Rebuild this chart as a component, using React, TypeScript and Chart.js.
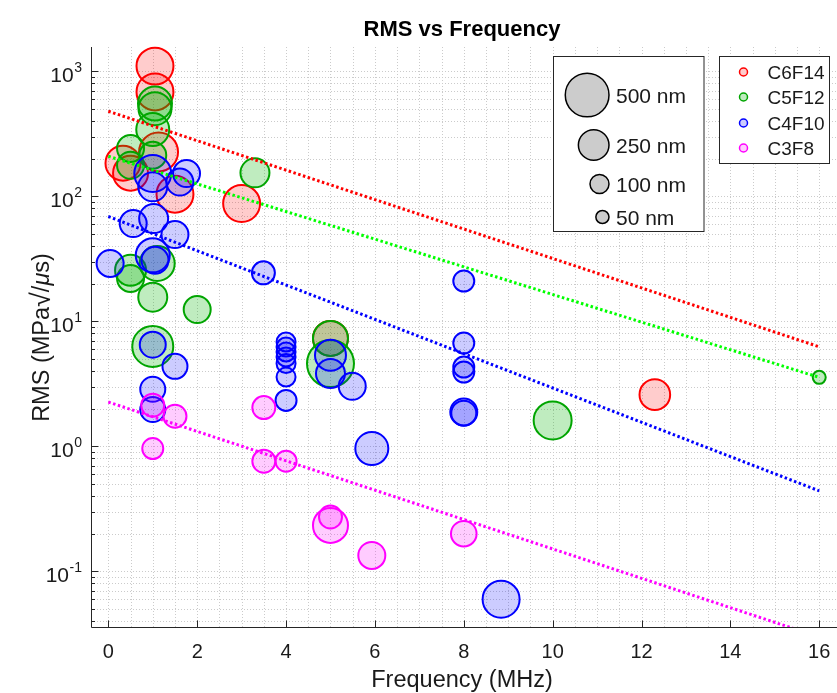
import React, { useEffect, useRef } from 'react';
import { Chart, registerables } from 'chart.js';

Chart.register(...registerables);

const FONT = '"Liberation Sans", Arial, Helvetica, sans-serif';

// ---- C6F14 (red) ----
const c6Freq = [1.05, 1.05, 1.13, 0.33, 0.5, 1.5, 3.0, 5.0, 12.3];
const c6Rms = [1100, 683, 226, 184, 153, 104, 87.5, 7.3, 2.59];
const c6Size = [360, 360, 400, 324, 324, 360, 360, 324, 250];

// ---- C5F12 (green) ----
const c5Freq = [1.05, 1.05, 1.0, 0.5, 1.0, 0.5, 3.3, 1.1, 0.5, 0.5, 1.0, 2.0, 1.0, 5.0, 5.0, 10.0, 16.0];
const c5Rms = [552, 502, 342, 241, 213, 177, 154, 29, 25.6, 22, 15.6, 12.4, 6.3, 7.3, 4.59, 1.61, 3.56];
const c5Size = [306, 289, 289, 196, 196, 196, 225, 324, 256, 196, 225, 196, 441, 324, 576, 380, 49];

// ---- C4F10 (blue) ----
const c4Freq = [1.0, 1.76, 1.61, 1.0, 0.56, 1.02, 1.5, 1.0, 1.05, 0.04, 1.0, 1.5, 1.0, 1.0, 3.49,
  4.0, 4.0, 4.0, 4.0, 4.0, 4.0, 4.0, 5.0, 5.0, 5.49, 5.93, 8.0, 8.0, 8.0, 8.0, 8.0, 8.0, 8.84];
const c4Rms = [152, 152, 130, 119, 60.5, 66.3, 49.4, 33.7, 30.8, 29, 6.5, 4.36, 2.86, 1.97, 24.4,
  6.83, 6.23, 5.68, 5.18, 4.59, 3.58, 2.33, 5.35, 3.82, 3.02, 0.96, 21, 6.7, 4.3, 3.93, 1.88, 1.84, 0.0597];
const c4Size = [360, 196, 196, 225, 196, 225, 196, 306, 196, 196, 182, 169, 169, 169, 144,
  100, 100, 100, 100, 100, 100, 121, 256, 225, 196, 289, 121, 121, 121, 121, 196, 169, 361];

// ---- C3F8 (magenta) ----
const c3Freq = [1.0, 1.5, 1.0, 3.5, 3.5, 4.0, 5.0, 5.0, 5.93, 8.0];
const c3Rms = [2.13, 1.74, 0.96, 2.04, 0.76, 0.76, 0.233, 0.272, 0.134, 0.2];
const c3Size = [144, 144, 121, 144, 144, 121, 324, 144, 196, 177];

// ---- fitted trend lines ----
const fitFreq = [0, 16];
const c6Fit = [479, 6.25];
const c5Fit = [209, 3.56];
const c4Fit = [69, 0.44];
const c3Fit = [2.26, 0.0298];

// ---- axes / legends ----
const X_MIN = -0.39;
const X_MAX = 16.4;
const Y_MIN = 0.0352;
const Y_MAX = 1564;
const xTickValues = [0, 2, 4, 6, 8, 10, 12, 14, 16];
const yDecades = [-1, 0, 1, 2, 3];
const seriesNames = ['C6F14', 'C5F12', 'C4F10', 'C3F8'];
const sizeLegendValues = [500, 250, 100, 50];
const sizeLegendLabels = ['500 nm', '250 nm', '100 nm', '50 nm'];

const EDGE = ['rgb(255,0,0)', 'rgb(0,165,0)', 'rgb(0,0,255)', 'rgb(255,0,255)'];
const FILL = ['rgba(255,0,0,0.2)', 'rgba(0,180,0,0.25)', 'rgba(0,0,255,0.2)', 'rgba(255,0,255,0.2)'];
const LINE = ['rgb(255,0,0)', 'rgb(0,255,0)', 'rgb(0,0,255)', 'rgb(255,0,255)'];

const radius = (size: number) => Math.sqrt(size) - 0.5;

const bubbles = (f: number[], v: number[], s: number[]) =>
  f.map((fx, i) => ({ x: fx, y: v[i], r: radius(s[i]) }));
const fitPts = (v: number[]) => fitFreq.map((f, i) => ({ x: f, y: v[i] }));

const matlabPlugin = {
  id: 'matlabAxes',
  beforeDatasetsDraw(chart: any) {
    const { ctx, chartArea: a, scales } = chart;
    const xs = scales.x;
    const ys = scales.y;
    ctx.save();
    ctx.strokeStyle = '#cbcbcb';
    ctx.lineWidth = 1;
    ctx.setLineDash([1, 2]);
    for (let v = 0; v <= X_MAX + 1e-9; v += 0.5) {
      const px = Math.round(xs.getPixelForValue(v)) + 0.5;
      ctx.beginPath();
      ctx.moveTo(px, a.top);
      ctx.lineTo(px, a.bottom);
      ctx.stroke();
    }
    for (let n = -2; n <= 3; n++) {
      for (let k = 1; k <= 9; k++) {
        const v = k * Math.pow(10, n);
        if (v < Y_MIN || v > Y_MAX) continue;
        const py = Math.round(ys.getPixelForValue(v)) + 0.5;
        ctx.beginPath();
        ctx.moveTo(a.left, py);
        ctx.lineTo(a.right, py);
        ctx.stroke();
      }
    }
    ctx.restore();
  },
  afterDraw(chart: any) {
    const { ctx, chartArea: a, scales } = chart;
    const xs = scales.x;
    const ys = scales.y;
    const axisColor = '#262626';
    const textColor = '#1a1a1a';
    ctx.save();
    ctx.setLineDash([]);
    ctx.strokeStyle = axisColor;
    ctx.lineWidth = 1;
    const ax = Math.round(a.left) + 0.5;
    const ay = Math.round(a.bottom) - 0.5;
    ctx.beginPath();
    ctx.moveTo(ax, a.top);
    ctx.lineTo(ax, ay);
    ctx.lineTo(a.right, ay);
    ctx.stroke();

    // x ticks (inward)
    for (const v of xTickValues) {
      const px = Math.round(xs.getPixelForValue(v)) + 0.5;
      ctx.beginPath();
      ctx.moveTo(px, ay);
      ctx.lineTo(px, ay - 7);
      ctx.stroke();
    }
    // y ticks (inward, major + minor)
    for (let n = -2; n <= 3; n++) {
      for (let k = 1; k <= 9; k++) {
        const v = k * Math.pow(10, n);
        if (v < Y_MIN || v > Y_MAX) continue;
        const py = Math.round(ys.getPixelForValue(v)) + 0.5;
        ctx.beginPath();
        ctx.moveTo(ax, py);
        ctx.lineTo(ax + (k === 1 ? 7 : 3.5), py);
        ctx.stroke();
      }
    }

    // x tick labels
    ctx.fillStyle = textColor;
    ctx.font = `20px ${FONT}`;
    ctx.textAlign = 'center';
    ctx.textBaseline = 'alphabetic';
    for (const v of xTickValues) {
      ctx.fillText(String(v), xs.getPixelForValue(v), a.bottom + 30);
    }
    // y tick labels 10^n
    const right = a.left - 9;
    for (const n of yDecades) {
      const py = ys.getPixelForValue(Math.pow(10, n));
      const exp = String(n);
      ctx.font = `14px ${FONT}`;
      const ew = ctx.measureText(exp).width;
      ctx.textAlign = 'left';
      ctx.fillText(exp, right - ew, py + 1);
      ctx.font = `21px ${FONT}`;
      ctx.textAlign = 'right';
      ctx.fillText('10', right - ew - 0.5, py + 11);
    }

    // titles
    const cx = (a.left + a.right) / 2;
    ctx.textAlign = 'center';
    ctx.font = `bold 22px ${FONT}`;
    ctx.fillStyle = '#000';
    ctx.fillText('RMS vs Frequency', cx - 2, a.top - 11);
    ctx.fillStyle = textColor;
    ctx.font = `23.5px ${FONT}`;
    ctx.fillText('Frequency (MHz)', cx - 2, a.bottom + 59);

    // y-axis title drawn in pieces (TeX-like radical and italic mu)
    ctx.save();
    ctx.translate(41, (a.top + a.bottom) / 2);
    ctx.rotate(-Math.PI / 2);
    ctx.textBaseline = 'alphabetic';
    const parts: [string, string, number][] = [
      ['RMS (MPa', `23.5px ${FONT}`, 0],
      ['\u221A', `27px ${FONT}`, 1],
      ['/', `23.5px ${FONT}`, 0],
      ['\u03BC', `italic 23.5px ${FONT}`, 0],
      ['s)', `23.5px ${FONT}`, 0],
    ];
    let total = 0;
    const widths = parts.map(([t, f]) => {
      ctx.font = f;
      const w = ctx.measureText(t).width;
      total += w;
      return w;
    });
    let pos = -total / 2;
    ctx.textAlign = 'left';
    parts.forEach(([t, f, dy], i) => {
      ctx.font = f;
      ctx.fillText(t, pos, 8 + dy);
      pos += widths[i];
    });
    ctx.restore();

    // size legend
    ctx.fillStyle = '#fff';
    ctx.strokeStyle = axisColor;
    ctx.lineWidth = 1;
    ctx.fillRect(553.5, 56.5, 150.5, 175);
    ctx.strokeRect(553.5, 56.5, 150.5, 175);
    const sizeY = [95, 145, 184, 217];
    sizeLegendValues.forEach((s, i) => {
      const r = radius(s);
      ctx.beginPath();
      ctx.arc(609 - r, sizeY[i], r, 0, Math.PI * 2);
      ctx.fillStyle = '#cccccc';
      ctx.fill();
      ctx.lineWidth = 1.5;
      ctx.strokeStyle = '#000';
      ctx.stroke();
      ctx.fillStyle = textColor;
      ctx.font = `21px ${FONT}`;
      ctx.textAlign = 'left';
      ctx.fillText(sizeLegendLabels[i], 616, sizeY[i] + 7.5);
    });

    // series legend
    ctx.fillStyle = '#fff';
    ctx.strokeStyle = axisColor;
    ctx.lineWidth = 1;
    ctx.fillRect(719.5, 56.5, 110, 107);
    ctx.strokeRect(719.5, 56.5, 110, 107);
    const legY = [72, 97, 123, 148];
    seriesNames.forEach((name, i) => {
      ctx.beginPath();
      ctx.arc(743.5, legY[i], 4, 0, Math.PI * 2);
      ctx.fillStyle = FILL[i];
      ctx.fill();
      ctx.lineWidth = 1.5;
      ctx.strokeStyle = EDGE[i];
      ctx.stroke();
      ctx.fillStyle = textColor;
      ctx.font = `19px ${FONT}`;
      ctx.textAlign = 'left';
      ctx.fillText(name, 767.5, legY[i] + 7);
    });
    ctx.restore();
  },
};

export default function App() {
  const canvasRef = useRef<HTMLCanvasElement | null>(null);

  useEffect(() => {
    document.body.style.margin = '0';
    const canvas = canvasRef.current;
    if (!canvas) return;
    const bubbleSet = (label: string, f: number[], v: number[], s: number[], i: number, order: number) => ({
      type: 'bubble' as const,
      label,
      data: bubbles(f, v, s),
      backgroundColor: FILL[i],
      borderColor: EDGE[i],
      borderWidth: 2,
      order,
      clip: false as const,
    });
    const lineSet = (v: number[], i: number, order: number) => ({
      type: 'line' as const,
      label: seriesNames[i] + ' fit',
      data: fitPts(v),
      borderColor: LINE[i],
      borderWidth: 3,
      borderDash: [2.5, 2.5],
      borderCapStyle: 'butt' as const,
      pointRadius: 0,
      fill: false,
      tension: 0,
      order,
      clip: 0,
    });
    const chart = new Chart(canvas, {
      type: 'bubble',
      data: {
        datasets: [
          bubbleSet('C6F14', c6Freq, c6Rms, c6Size, 0, 8),
          bubbleSet('C5F12', c5Freq, c5Rms, c5Size, 1, 7),
          bubbleSet('C4F10', c4Freq, c4Rms, c4Size, 2, 6),
          bubbleSet('C3F8', c3Freq, c3Rms, c3Size, 3, 5),
          lineSet(c6Fit, 0, 3),
          lineSet(c5Fit, 1, 2),
          lineSet(c4Fit, 2, 1),
          lineSet(c3Fit, 3, 0),
        ] as any,
      },
      options: {
        animation: false,
        responsive: false,
        events: [],
        layout: { autoPadding: false, padding: { left: 91, top: 47, right: 0, bottom: 65 } },
        scales: {
          x: { type: 'linear', min: X_MIN, max: X_MAX, display: false },
          y: { type: 'logarithmic', min: Y_MIN, max: Y_MAX, display: false },
        },
        plugins: {
          legend: { display: false },
          tooltip: { enabled: false },
          title: { display: false },
        },
      },
      plugins: [matlabPlugin],
    });
    return () => chart.destroy();
  }, []);

  return (
    <div style={{ width: 837, height: 693 }}>
      <canvas ref={canvasRef} width={837} height={693} style={{ display: 'block' }} />
    </div>
  );
}
